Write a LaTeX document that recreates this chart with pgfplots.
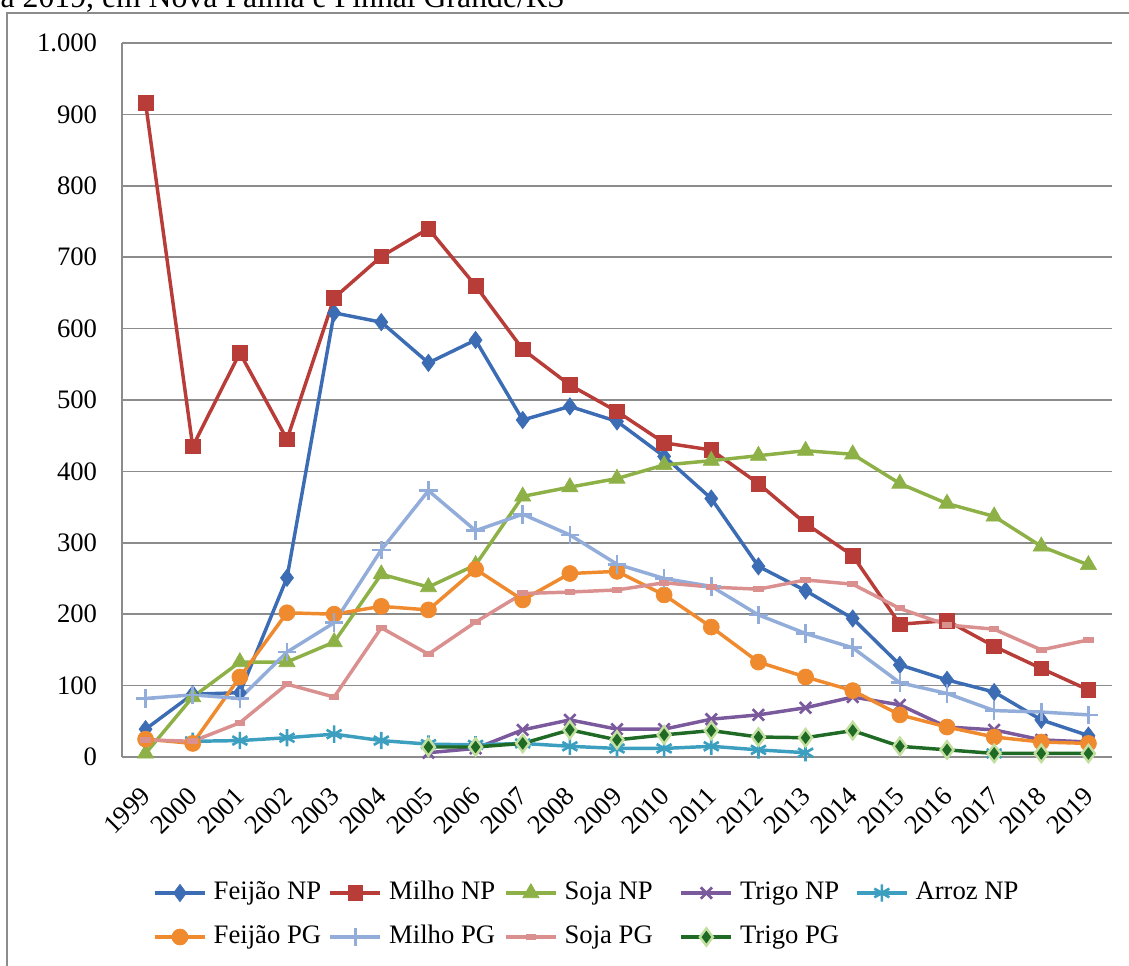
\documentclass[border=0pt]{standalone}
\usepackage{fontspec}
\setmainfont{Liberation Serif}
\usepackage{pgfplots}
\usepackage{pgfplotstable}
\pgfplotsset{compat=1.18}
\definecolor{cFNP}{HTML}{3C6DB4}
\definecolor{cMNP}{HTML}{B83C37}
\definecolor{cSNP}{HTML}{8DB146}
\definecolor{cTNP}{HTML}{7A599C}
\definecolor{cANP}{HTML}{3C9FBF}
\definecolor{cFPG}{HTML}{EF8A2F}
\definecolor{cMPG}{HTML}{93ADDA}
\definecolor{cSPG}{HTML}{D9908F}
\definecolor{cTPG}{HTML}{1F6A25}
\definecolor{cTPGo}{HTML}{C3DFA0}
\definecolor{gridg}{HTML}{8C8C8C}
\pgfplotstableread{
x FNP MNP SNP TNP ANP FPG MPG SPG TPG
0 39 916 5 nan nan 25 82 24 nan
1 88 435 84 nan 22 19 87 22 nan
2 90 566 133 nan 23 112 82 48 nan
3 251 445 133 nan 27 202 147 102 nan
4 622 643 161 nan 32 200 188 84 nan
5 609 701 256 nan 23 211 290 181 nan
6 552 740 238 6 18 206 373 144 14
7 584 660 269 12 17 263 317 189 14
8 472 571 365 38 19 220 340 229 19
9 491 521 378 52 15 257 311 231 38
10 470 484 390 39 12 260 270 234 24
11 421 440 409 39 12 227 250 244 31
12 362 430 415 53 15 182 239 238 37
13 267 383 422 59 10 133 199 235 28
14 233 327 429 69 6 112 173 248 27
15 194 282 424 84 nan 93 153 242 37
16 129 186 383 73 nan 59 104 208 15
17 108 191 355 42 nan 42 89 185 10
18 91 155 337 38 5 28 65 179 5
19 52 124 295 24 nan 21 63 150 5
20 30 94 269 21 nan 19 59 164 5
}\data
\newcommand{\lt}[1]{\makebox[86.25pt][l]{#1}}
\begin{document}
\fontsize{20}{24}\selectfont
\begin{tikzpicture}
\useasboundingbox (0,0) rectangle (846.75pt,723.75pt);
\draw[gridg, line width=1.2pt] (5.25pt,-5pt) -- (5.25pt,714pt) -- (860pt,714pt);
\node[anchor=base west, inner sep=0pt, font=\fontsize{23.8}{28}\selectfont] at (0.3pt,718.2pt) {a 2019, em Nova Palma e Pinhal Grande/RS};
\begin{axis}[
  at={(91.5pt,156pt)}, anchor=south west,
  scale only axis, width=742.5pt, height=535.5pt,
  xmin=-0.5, xmax=20.5, ymin=0, ymax=1000,
  unbounded coords=jump,
  axis x line*=bottom, axis y line*=left,
  axis line style={gridg, line width=1.2pt, -},
  ymajorgrids, major grid style={gridg, line width=1.1pt},
  ytick={0,100,...,1000},
  xtick={0,...,20},
  xticklabels={1999,2000,2001,2002,2003,2004,2005,2006,2007,2008,2009,2010,2011,2012,2013,2014,2015,2016,2017,2018,2019},
  major tick length=0pt,
  tick label style={font=\fontsize{20}{24}\selectfont},
  /pgf/number format/assume math mode=true,
  /pgf/number format/.cd, 1000 sep={.}, /pgfplots/.cd,
  yticklabel style={inner xsep=0pt, xshift=-18.5pt},
  xticklabel style={xshift=-4.5pt, yshift=-21.2pt, rotate=45, anchor=north east, inner sep=0pt},
  every axis plot/.append style={line width=2.6pt},
  legend columns=5,
  legend style={at={(0.0313,-0.2213)}, anchor=west, draw=none, fill=none, inner sep=0pt,
    nodes={inner sep=0pt, text height=14pt, text depth=5pt, font=\fontsize{20}{24}\selectfont},
    row sep=14pt,
    /tikz/every odd column/.style={column sep=5.25pt},
    /tikz/every even column/.style={column sep=0pt}},
  legend image code/.code={\draw[mark repeat=2,mark phase=2] plot coordinates {(0pt,0pt) (18.75pt,0pt) (37.5pt,0pt)};},
]
\addplot[cFNP, mark=diamond*, mark size=6.5pt, mark options={solid, fill=cFNP, line width=0.5pt}] table[x=x,y=FNP]{\data};
\addlegendentry{\lt{Feijão NP}}
\addplot[cMNP, mark=square*, mark size=5.5pt, mark options={solid, fill=cMNP, line width=0.5pt}] table[x=x,y=MNP]{\data};
\addlegendentry{\lt{Milho NP}}
\addplot[cSNP, mark=triangle*, mark size=7pt, mark options={solid, fill=cSNP, line width=0.5pt}] table[x=x,y=SNP]{\data};
\addlegendentry{\lt{Soja NP}}
\addplot[cTNP, mark=x, mark size=6pt, mark options={solid, line width=2pt}] table[x=x,y=TNP]{\data};
\addlegendentry{\lt{Trigo NP}}
\addplot[cANP, mark=asterisk, mark size=6.5pt, mark options={solid, line width=2pt}] table[x=x,y=ANP]{\data};
\addlegendentry{\lt{Arroz NP}}
\addplot[cFPG, mark=*, mark size=6pt, mark options={solid, fill=cFPG, line width=0.5pt}] table[x=x,y=FPG]{\data};
\addlegendentry{\lt{Feijão PG}}
\addplot[cMPG, mark=+, mark size=7pt, mark options={solid, line width=2pt}] table[x=x,y=MPG]{\data};
\addlegendentry{\lt{Milho PG}}
\addplot[cSPG, mark=-, mark size=4pt, mark options={solid, line width=4.5pt}] table[x=x,y=SPG]{\data};
\addlegendentry{\lt{Soja PG}}
\addplot[cTPG, mark=diamond*, mark size=6.5pt, mark options={solid, fill=cTPG, draw=cTPGo, line width=1.8pt}] table[x=x,y=TPG]{\data};
\addlegendentry{\lt{Trigo PG}}
\end{axis}
\end{tikzpicture}
\end{document}
